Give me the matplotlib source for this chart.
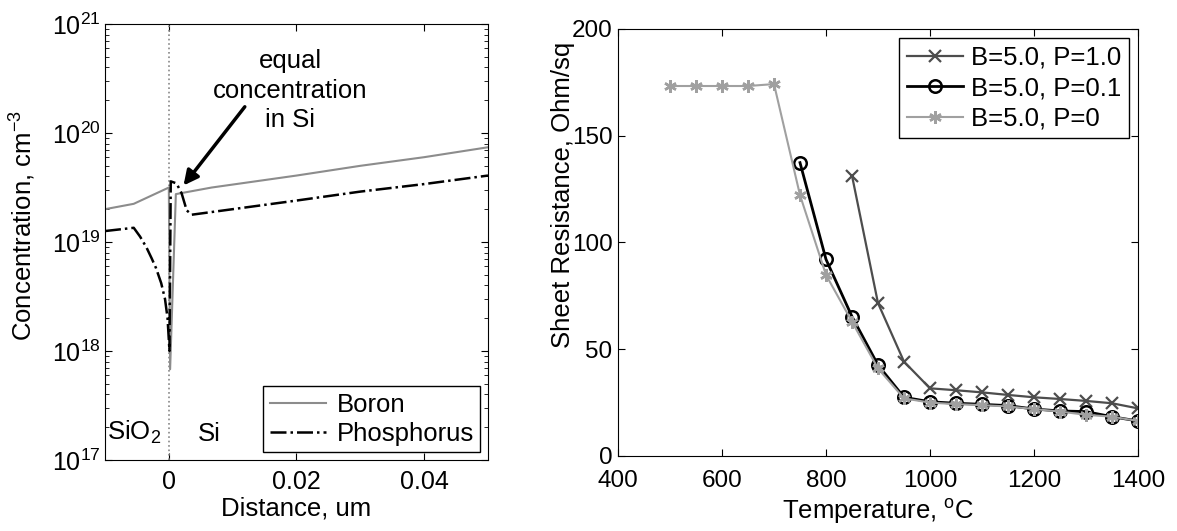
import matplotlib
matplotlib.use("Agg")
import matplotlib.pyplot as plt

plt.rcParams['font.family'] = ['Liberation Sans', 'DejaVu Sans']
plt.rcParams['mathtext.fontset'] = 'custom'
plt.rcParams['mathtext.rm'] = 'Liberation Sans'
plt.rcParams['mathtext.it'] = 'Liberation Sans:italic'
plt.rcParams['mathtext.bf'] = 'Liberation Sans:bold'
plt.rcParams['font.size'] = 18.5

# ---- left panel data (distance in um, concentration in cm^-3)
boron_x = [-0.01, -0.0055, 0.0, 0.0002, 0.0011, 0.0067, 0.02, 0.03, 0.04, 0.05]
boron_c = [2.0e19, 2.24e19, 3.16e19, 6.8e17, 2.75e19, 3.16e19, 4.07e19, 5.0e19, 6.0e19, 7.4e19]

phos_x = [-0.01, -0.0055, -0.0045, -0.0035, -0.0027, -0.002, -0.0012, -0.0006,
          -0.0002, 0.0001, 0.0003, 0.0012, 0.002, 0.0028, 0.0036, 0.01, 0.02,
          0.03, 0.04, 0.05]
phos_c = [1.26e19, 1.35e19, 1.12e19, 8.9e18, 7.1e18, 5.75e18, 4.2e18, 3.0e18,
          2.0e18, 1.0e18, 3.6e19, 3.45e19, 2.8e19, 1.95e19, 1.78e19, 2.0e19,
          2.4e19, 2.9e19, 3.4e19, 4.07e19]

# ---- right panel data (temperature in C, sheet resistance Ohm/sq)
t_p10 = [850, 900, 950, 1000, 1050, 1100, 1150, 1200, 1250, 1300, 1350, 1400]
r_p10 = [131.3, 71.6, 44.2, 31.7, 30.8, 29.8, 28.6, 27.5, 26.7, 25.8, 24.7, 22.3]

t_p01 = [750, 800, 850, 900, 950, 1000, 1050, 1100, 1150, 1200, 1250, 1300, 1350, 1400]
r_p01 = [137.4, 92.1, 65.3, 42.6, 27.5, 25.4, 24.7, 24.2, 23.6, 22.0, 21.1, 20.8, 18.4, 16.4]

t_p0 = [500, 550, 600, 650, 700, 750, 800, 850, 900, 950, 1000, 1050, 1100,
        1150, 1200, 1250, 1300, 1350, 1400]
r_p0 = [173.3, 173.3, 173.3, 173.3, 174.2, 122.2, 84.8, 62.9, 41.0, 27.0, 25.0,
        24.3, 23.8, 23.2, 22.0, 20.8, 19.3, 18.4, 16.4]

W, H = 1177, 531
fig = plt.figure(figsize=(W / 100, H / 100), dpi=100)

# ---------------- left panel
L = (105, 24, 488, 460)
ax1 = fig.add_axes([L[0] / W, (H - L[3]) / H, (L[2] - L[0]) / W, (L[3] - L[1]) / H])
ax1.axvline(0, color='#888888', linestyle=':', linewidth=1.2)
ax1.semilogy(boron_x, boron_c, color='#8c8c8c', linewidth=1.5, label='Boron')
ax1.semilogy(phos_x, phos_c, color='black', linewidth=1.8, linestyle='-.',
             label='Phosphorus')
ax1.set_xlim(-0.01, 0.05)
ax1.set_ylim(1e17, 1e21)
ax1.set_xticks([0, 0.02, 0.04])
ax1.set_xticklabels(['0', '0.02', '0.04'])
ax1.set_xlabel('Distance, um', labelpad=2)
ax1.set_ylabel('Concentration, cm$^{-3}$')
ax1.yaxis.set_label_coords(-0.175, 0.537)
ax1.tick_params(which='both', direction='in', top=True, right=True,
                labelsize=18)
ax1.tick_params(which='major', length=5)
ax1.tick_params(axis='x', which='major', pad=7)
ax1.tick_params(axis='y', which='major', pad=3)
ax1.tick_params(which='minor', length=3)
ax1.text(0.019, 2.45e20, 'equal\nconcentration\nin Si', ha='center',
         va='center', linespacing=1.3)
ax1.annotate('', xy=(0.0023, 3.3e19), xytext=(0.0119, 1.74e20),
             arrowprops=dict(arrowstyle='-|>', color='black', lw=2.5,
                             mutation_scale=22, shrinkA=0, shrinkB=0))
ax1.text(-0.0055, 1.35e17, 'SiO$_2$', ha='center', va='bottom')
ax1.text(0.0063, 1.35e17, 'Si', ha='center', va='bottom')
leg1 = ax1.legend(loc='lower right', fancybox=False, edgecolor='black',
                  framealpha=1, handlelength=2.2, borderaxespad=0.3,
                  borderpad=0.25, labelspacing=0.2, handletextpad=0.4)
leg1.get_frame().set_linewidth(1.0)

# ---------------- right panel
R = (618, 29, 1138, 456)
ax2 = fig.add_axes([R[0] / W, (H - R[3]) / H, (R[2] - R[0]) / W, (R[3] - R[1]) / H])
ax2.plot(t_p10, r_p10, color='#4d4d4d', linewidth=1.6, marker='x',
         markersize=8, markeredgewidth=1.6, label='B=5.0, P=1.0')
ax2.plot(t_p01, r_p01, color='black', linewidth=2.0, marker='o',
         markersize=9, markerfacecolor='none', markeredgewidth=1.8,
         label='B=5.0, P=0.1')
ax2.plot(t_p0, r_p0, color='#a0a0a0', linewidth=1.5, marker=(6, 2, 0),
         markersize=9, markeredgewidth=1.8, label='B=5.0, P=0')
ax2.set_xlim(400, 1400)
ax2.set_ylim(0, 200)
ax2.set_xticks([400, 600, 800, 1000, 1200, 1400])
ax2.set_yticks([0, 50, 100, 150, 200])
ax2.set_xlabel('Temperature, $^{\\rm o}$C', labelpad=4)
ax2.set_ylabel('Sheet Resistance, Ohm/sq')
ax2.yaxis.set_label_coords(-0.083, 0.611)
ax2.tick_params(which='both', direction='in', top=True, right=True, length=5,
                labelsize=17.5)
ax2.tick_params(axis='x', pad=10)
ax2.tick_params(axis='y', pad=4)
leg2 = ax2.legend(loc='upper right', fancybox=False, edgecolor='black',
                  framealpha=1, handlelength=2.2, borderaxespad=0.35,
                  borderpad=0.3, labelspacing=0.25, handletextpad=0.3)
leg2.get_frame().set_linewidth(1.0)

fig.savefig('out.png', dpi=100)
